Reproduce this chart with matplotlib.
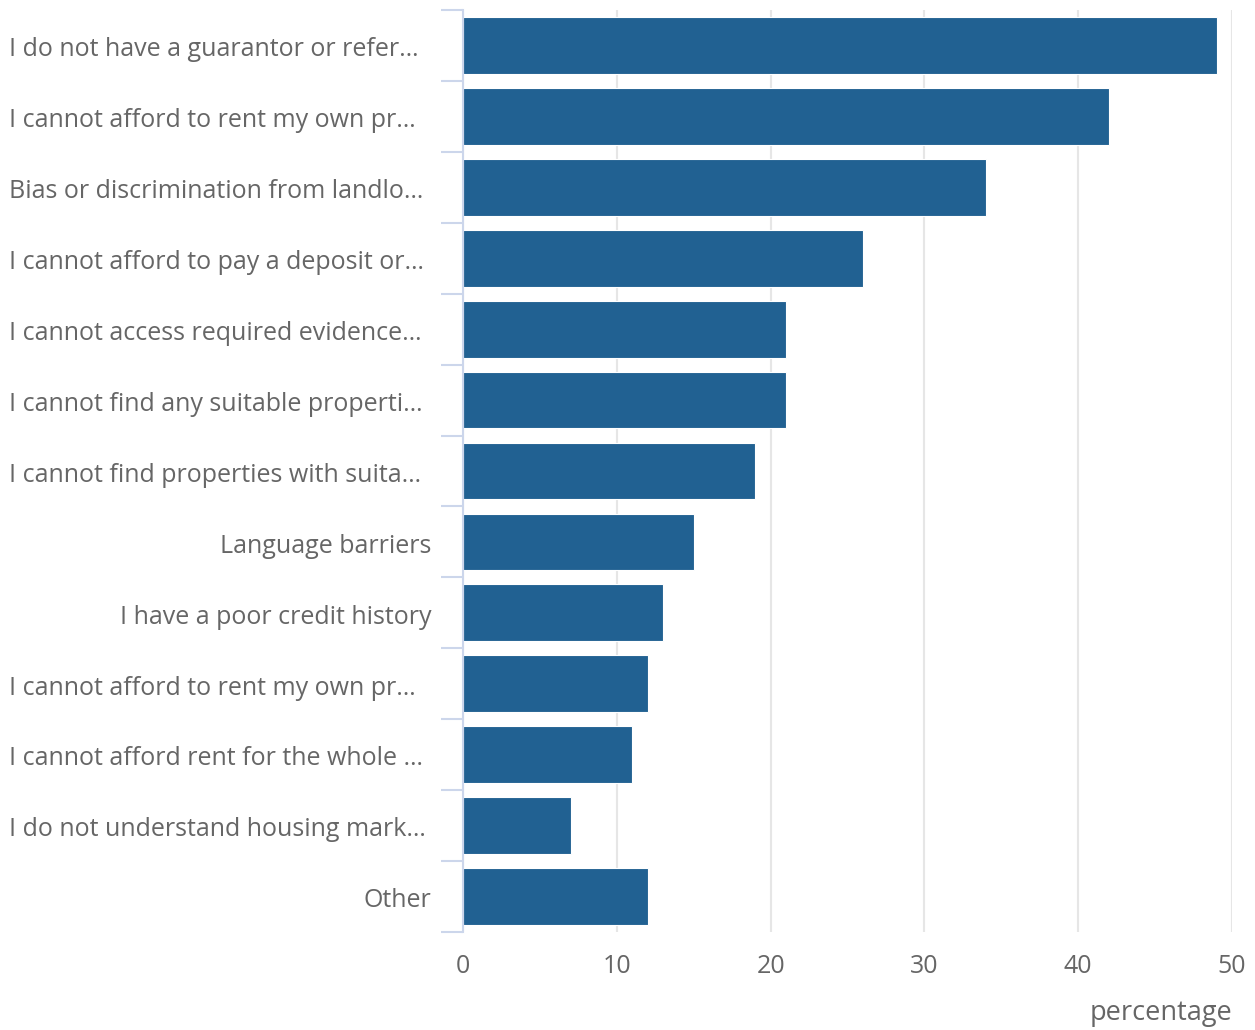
import matplotlib.pyplot as plt
import matplotlib.transforms as mtransforms

# Data
labels = [
    'I do not have a guarantor or refer…',
    'I cannot afford to rent my own pr…',
    'Bias or discrimination from landlo…',
    'I cannot afford to pay a deposit or…',
    'I cannot access required evidence…',
    'I cannot find any suitable properti…',
    'I cannot find properties with suita…',
    'Language barriers',
    'I have a poor credit history',
    'I cannot afford to rent my own pr…',
    'I cannot afford rent for the whole …',
    'I do not understand housing mark…',
    'Other',
]
values = [49, 42, 34, 26, 21, 21, 19, 15, 13, 12, 11, 7, 12]
x_ticks = [0, 10, 20, 30, 40, 50]

plt.rcParams['font.family'] = ['Open Sans', 'DejaVu Sans']
text_color = '#666666'
axis_color = '#ccd6eb'

fig = plt.figure(figsize=(12.55, 10.3), dpi=100)
ax = fig.add_axes([463 / 1255, 1 - 932 / 1030, (1232 - 463) / 1255, 922 / 1030])

ypos = list(range(len(values)))
ax.barh(ypos, values, height=0.8, color='#216192', edgecolor='white', linewidth=0.8, zorder=3)

ax.set_xlim(0, 50)
ax.set_ylim(len(values) - 0.5, -0.5)

# vertical grid
ax.set_xticks(x_ticks)
ax.grid(axis='x', color='#e6e6e6', linewidth=1.5, zorder=0)
ax.tick_params(axis='x', length=0, labelsize=18, labelcolor=text_color, pad=16)

# y axis line with ticks between categories
ax.set_yticks([i - 0.5 for i in range(len(values) + 1)])
ax.set_yticklabels([])
ax.tick_params(axis='y', length=15.8, width=1.5, color=axis_color)
for s in ['top', 'right', 'bottom']:
    ax.spines[s].set_visible(False)
ax.spines['left'].set_color(axis_color)
ax.spines['left'].set_linewidth(1.5)
ax.spines['left'].set_zorder(4)

# category labels: truncated ones start at the left edge, others right-aligned
trans = mtransforms.blended_transform_factory(fig.transFigure, ax.transData)
for y, lab in zip(ypos, labels):
    if lab.endswith('…'):
        ax.text(9 / 1255, y + 0.06, lab, transform=trans, ha='left', va='center',
                fontsize=18, color=text_color)
    else:
        ax.text(431 / 1255, y + 0.06, lab, transform=trans, ha='right', va='center',
                fontsize=18, color=text_color)

fig.text(1232 / 1255, 1 - 1013 / 1030, 'percentage', ha='right', va='center',
         fontsize=19.5, color=text_color)

fig.savefig('out.png', dpi=100)
